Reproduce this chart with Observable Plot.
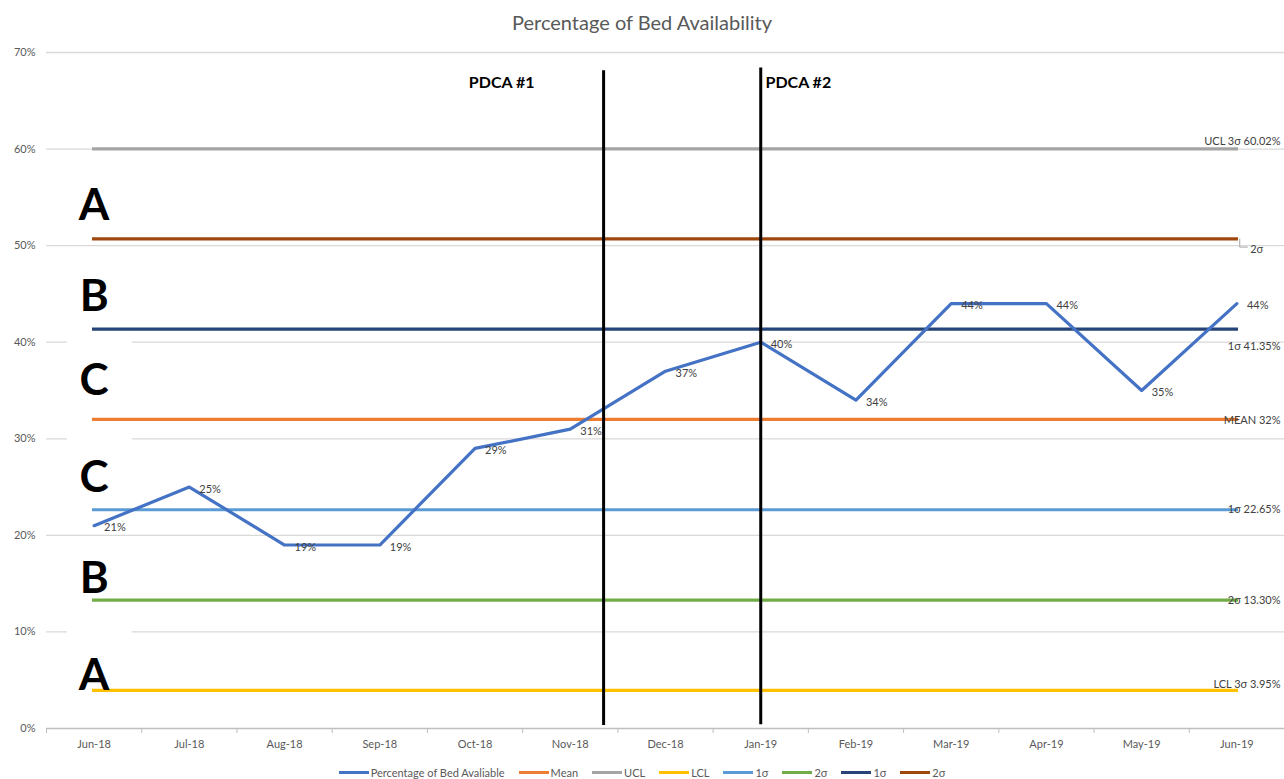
<!DOCTYPE html>
<html>
<head>
<meta charset="utf-8">
<script src="https://cdn.jsdelivr.net/npm/d3@7"></script>
<script src="https://cdn.jsdelivr.net/npm/@observablehq/plot@0.6"></script>
<style>
  html, body { margin: 0; padding: 0; background: #fff; overflow: hidden; }
  body { width: 1284px; height: 779px; font-family: Lato, "Open Sans", sans-serif; }
  #title { height: 40px; line-height: 44px; text-align: center; font-size: 20px; color: #595959; }
  #chart svg { display: block; }
  #legend { display: flex; justify-content: center; align-items: center; height: 14px; padding-top: 10px; font-size: 11px; color: #595959; }
  #legend .item { display: flex; align-items: center; margin: 0 7px; }
  #legend .sw { display: inline-block; width: 30px; height: 3px; margin-right: 2px; }
</style>
</head>
<body>
<div id="title">Percentage of Bed Availability</div>
<div id="chart"></div>
<div id="legend"></div>
<script>
// ---- data ----
const months = ["Jun-18","Jul-18","Aug-18","Sep-18","Oct-18","Nov-18","Dec-18","Jan-19","Feb-19","Mar-19","Apr-19","May-19","Jun-19"];
const bedPct = [21, 25, 19, 19, 29, 31, 37, 40, 34, 44, 44, 35, 44];
const controlNames  = ["Mean", "UCL", "LCL", "1σ", "2σ", "1σ", "2σ"];
const controlValues = [32, 60.02, 3.95, 22.65, 13.30, 41.35, 50.70];
const controlColors = ["#ED7D31", "#A5A5A5", "#FFC000", "#5B9BD5", "#70AD47", "#264478", "#9E480E"];
const rightLabels = ["MEAN 32%", "UCL 3σ 60.02%", "LCL 3σ 3.95%", "1σ 22.65%", "2σ 13.30%", "1σ 41.35%", "2σ"];
const yTicks = [0, 10, 20, 30, 40, 50, 60, 70];
const zoneLetters = ["A", "B", "C", "C", "B", "A"];
const pdcaNames = ["PDCA #1", "PDCA #2"];
const pdcaX = [5.35, 7.0];   // position on the month axis (index)
const legendName = "Percentage of Bed Avaliable";
const dataColor = "#4472C4";

// ---- derived tables ----
const data = bedPct.map((v, i) => ({i, v}));
const ctrl = controlValues.map((v, k) => ({name: controlNames[k], v, color: controlColors[k], label: rightLabels[k]}));
const byName = k => controlValues[k];
// zone boundaries (from top): UCL, +2σ, +1σ, mean, -1σ, -2σ, LCL
const bounds = [60.02, 50.70, 41.35, 32, 22.65, 13.30, 3.95];
const zoneDy = [12, 13, 7, 13, 24, 31];
const zones = zoneLetters.map((l, k) => ({l, y: (bounds[k] + bounds[k + 1]) / 2, dy: zoneDy[k]}));
const labelDy = [1, -7, -6, 0, 0, 17, 0];

const marks = [
  Plot.ruleY(yTicks.filter(d => d > 0), {stroke: "#d9d9d9", strokeWidth: 1.3}),
  // white backgrounds of the zone-letter text boxes
  Plot.rect([40, 30, 10], {x1: -0.28, x2: 0.40, y1: d => d - 0.4, y2: d => d + 0.4, fill: "white"}),
  Plot.ruleY([0], {stroke: "#bfbfbf", strokeWidth: 1.3}),
  Plot.axisX(d3.range(14).map(k => k - 0.5), {tickSize: 5, tickFormat: () => "", stroke: "#bfbfbf", label: null}),
  Plot.axisX(d3.range(13), {tickSize: 0, tickPadding: 12, tickFormat: i => months[i], fill: "#595959", fontSize: 11, label: null}),
  Plot.axisY(yTicks, {tickSize: 0, tickPadding: 11, tickFormat: d => d + "%", fill: "#595959", fontSize: 11, label: null}),
  // control lines
  ...ctrl.map(c => Plot.ruleY([c.v], {x1: 0, x2: 12, stroke: c.color, strokeWidth: 3.2, strokeLinecap: "square"})),
  // leader line for the 2σ label
  Plot.line([{x: 12.03, y: byName(6)}, {x: 12.03, y: byName(6) - 0.85}, {x: 12.11, y: byName(6) - 0.85}],
    {x: "x", y: "y", stroke: "#a6a6a6", strokeWidth: 1}),
  // data line
  Plot.line(data, {x: "i", y: "v", stroke: dataColor, strokeWidth: 3.2}),
  Plot.text(data, {x: "i", y: "v", text: d => d.v + "%", textAnchor: "start", dx: 10, dy: 2, fill: "#404040", fontSize: 11}),
  // right-hand labels
  ...ctrl.map((c, k) => k === 6
    ? Plot.text([c], {x: 12.14, y: c.v, text: "label", textAnchor: "start", dy: 11, fill: "#404040", fontSize: 11})
    : Plot.text([c], {x: 12.5, y: c.v, text: "label", textAnchor: "end", dx: -4, dy: labelDy[k], fill: "#404040", fontSize: 11})),
  // zone letters
  ...zones.map(z => Plot.text([z], {x: 0, y: "y", text: "l", dy: z.dy, fontSize: 44, fontWeight: "bold", fill: "black"})),
  // PDCA lines and labels
  Plot.ruleX([pdcaX[0]], {y1: 0.3, y2: 68.1, stroke: "black", strokeWidth: 3}),
  Plot.ruleX([pdcaX[1]], {y1: 0.4, y2: 68.4, stroke: "black", strokeWidth: 3}),
  Plot.text([pdcaNames[0]], {x: pdcaX[0] - 1.07, y: 66.9, text: d => d, fontSize: 16, fontWeight: "bold", fill: "black"}),
  Plot.text([pdcaNames[1]], {x: pdcaX[1] + 0.05, y: 66.9, text: d => d, textAnchor: "start", fontSize: 16, fontWeight: "bold", fill: "black"})
];

const chart = Plot.plot({
  width: 1284,
  height: 715,
  marginLeft: 46,
  marginRight: 0,
  marginTop: 12,
  marginBottom: 27,
  x: {domain: [-0.5, 12.5], axis: null},
  y: {domain: [0, 70], axis: null},
  style: {fontFamily: "Lato, 'Open Sans', sans-serif", fontSize: "11px", background: "white", overflow: "visible"},
  marks
});
document.getElementById("chart").appendChild(chart);

// legend
const legendItems = [{name: legendName, color: dataColor}, ...ctrl.map(c => ({name: c.name, color: c.color}))];
const legend = document.getElementById("legend");
for (const it of legendItems) {
  const el = document.createElement("div");
  el.className = "item";
  const sw = document.createElement("span");
  sw.className = "sw";
  sw.style.background = it.color;
  el.appendChild(sw);
  el.appendChild(document.createTextNode(it.name));
  legend.appendChild(el);
}
</script>
</body>
</html>
